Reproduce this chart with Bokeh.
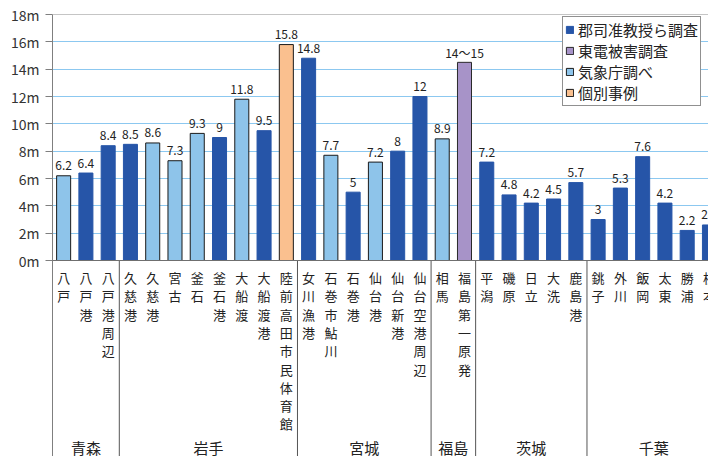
from bokeh.plotting import figure
from bokeh.models import Range1d, FixedTicker, ColumnDataSource, Span, Legend, LegendItem, CustomJSTickFormatter
from bokeh.embed import file_html
from bokeh.resources import INLINE
from bokeh.core.properties import value

# ---------------- data ----------------
regions = ["青森", "岩手", "宮城", "福島", "茨城", "千葉"]

places = ["八戸", "八戸港", "八戸港周辺",
          "久慈港", "久慈港", "宮古", "釜石", "釜石港", "大船渡", "大船渡港", "陸前高田市民体育館",
          "女川漁港", "石巻市鮎川", "石巻港", "仙台港", "仙台新港", "仙台空港周辺",
          "相馬", "福島第一原発",
          "平潟", "磯原", "日立", "大洗", "鹿島港",
          "銚子", "外川", "飯岡", "太東", "勝浦", "根本"]

place_region = ["青森"] * 3 + ["岩手"] * 8 + ["宮城"] * 6 + ["福島"] * 2 + ["茨城"] * 5 + ["千葉"] * 6

heights = [6.2, 6.4, 8.4,
           8.5, 8.6, 7.3, 9.3, 9.0, 11.8, 9.5, 15.8,
           14.8, 7.7, 5.0, 7.2, 8.0, 12.0,
           8.9, 14.5,
           7.2, 4.8, 4.2, 4.5, 5.7,
           3.0, 5.3, 7.6, 4.2, 2.2, 2.6]

value_labels = ["6.2", "6.4", "8.4",
                "8.5", "8.6", "7.3", "9.3", "9", "11.8", "9.5", "15.8",
                "14.8", "7.7", "5", "7.2", "8", "12",
                "8.9", "14～15",
                "7.2", "4.8", "4.2", "4.5", "5.7",
                "3", "5.3", "7.6", "4.2", "2.2", "2.6"]

G, T, J, K = "郡司准教授ら調査", "東電被害調査", "気象庁調べ", "個別事例"
survey = [J, G, G,
          G, J, J, J, G, J, G, K,
          G, J, G, J, G, G,
          J, T,
          G, G, G, G, G,
          G, G, G, G, G, G]

legend_order = [G, T, J, K]
y_ticks = [0, 2, 4, 6, 8, 10, 12, 14, 16, 18]

# ---------------- styling ----------------
fill = {G: "#2655A8", T: "#A793C8", J: "#8EC4EA", K: "#FAC08F"}
edge = {G: "#2655A8", T: "#2a2a2a", J: "#1a1a1a", K: "#1a1a1a"}
FONT = "Noto Sans CJK JP"

W, H = 708, 456
TOP, LEFT = 14, 52
PX_M = 246 / 18.0      # pixels per metre
SLOT = 22.27           # pixels per category slot
x_end = (W - LEFT) / SLOT
y_start = 18 - (H - TOP) / PX_M

p = figure(width=W, height=H, x_range=Range1d(0, x_end), y_range=Range1d(y_start, 18),
           output_backend="svg", toolbar_location=None, x_axis_location=None,
           min_border_left=LEFT, min_border_right=0, min_border_top=TOP, min_border_bottom=0)
p.outline_line_color = None
p.background_fill_color = "white"
p.border_fill_color = "white"
p.xgrid.visible = False

p.yaxis.ticker = FixedTicker(ticks=y_ticks)
p.yaxis.formatter = CustomJSTickFormatter(code="return tick + 'm';")
p.yaxis.axis_line_color = "#7f7f7f"
p.yaxis.major_tick_line_color = "#7f7f7f"
p.yaxis.major_tick_out = 7
p.yaxis.major_tick_in = 0
p.yaxis.minor_tick_line_color = None
p.yaxis.major_label_standoff = 6
p.yaxis.major_label_text_font = FONT
p.yaxis.major_label_text_font_size = "14px"
p.yaxis.major_label_text_color = "#333333"

p.ygrid.ticker = FixedTicker(ticks=[t for t in y_ticks if 0 < t < 18])
p.ygrid.grid_line_color = "#8CC8F0"
p.ygrid.grid_line_width = 1

p.add_layout(Span(location=18, dimension="width", line_color="#8c8c8c", line_width=1))
p.add_layout(Span(location=0, dimension="width", line_color="#6f6f6f", line_width=1))

# bars, one renderer per survey type
renderers = {}
for s in legend_order:
    idx = [i for i, v in enumerate(survey) if v == s]
    src = ColumnDataSource(dict(x=[i + 0.5 for i in idx], top=[heights[i] for i in idx]))
    renderers[s] = p.vbar(x="x", top="top", bottom=0, width=0.63, source=src,
                          fill_color=fill[s], line_color=edge[s], line_width=1)

# value labels above bars
p.text(x=[i + 0.5 for i in range(len(places))],
       y=[h + 10 / PX_M for h in heights],
       text=value_labels, text_align="center", text_baseline="alphabetic",
       text_font=value(FONT), text_font_size="12px", text_color="#222222")

# vertical category labels
cx, cy, ct = [], [], []
for i, name in enumerate(places):
    for j, ch in enumerate(name):
        cx.append(i + 0.5)
        cy.append(-(17 + 18.3 * j) / PX_M)
        ct.append(ch)
p.text(x=cx, y=cy, text=ct, text_align="center", text_baseline="middle",
       text_font=value(FONT), text_font_size="13px", text_color="#222222")

# region labels and separators
rx, rt = [], []
for r in regions:
    idx = [i for i, v in enumerate(place_region) if v == r]
    rx.append((idx[0] + idx[-1] + 1) / 2.0)
    rt.append(r)
p.text(x=rx, y=[-187 / PX_M] * len(rx), text=rt, text_align="center", text_baseline="middle",
       text_font=value(FONT), text_font_size="15px", text_color="#222222")

bounds = [i for i in range(1, len(places)) if place_region[i] != place_region[i - 1]]
p.segment(x0=bounds, y0=[0] * len(bounds), x1=bounds, y1=[y_start] * len(bounds),
          line_color="#555555", line_width=1)

# legend
legend = Legend(items=[LegendItem(label=s, renderers=[renderers[s]]) for s in legend_order],
                location=(510, 350))
legend.label_text_font = FONT
legend.label_text_font_size = "15px"
legend.label_text_color = "#222222"
legend.glyph_width = 9
legend.glyph_height = 9
legend.label_standoff = 4
legend.label_height = 20
legend.padding = 2
legend.spacing = 0
legend.margin = 0
legend.border_line_color = "#222222"
legend.border_line_width = 1
legend.background_fill_color = "white"
legend.background_fill_alpha = 1
p.add_layout(legend)

open("out.html", "w").write(file_html(p, INLINE))
